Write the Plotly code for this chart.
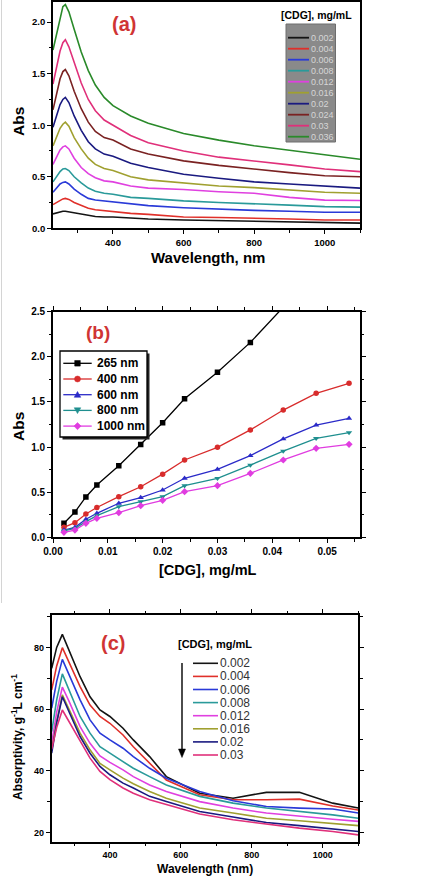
import plotly.graph_objects as go

W, H = 434, 894
FONT = "Liberation Sans, Arial, sans-serif"

# ---------------- Panel (a): Abs spectra ----------------
wl_a = [230, 240, 250, 258, 265, 275, 290, 310, 330, 350, 375, 400, 450, 500, 600, 700, 800, 900, 1000, 1100]
conc_a = ["0.002", "0.004", "0.006", "0.008", "0.012", "0.016", "0.02", "0.024", "0.03", "0.036"]
colors_a = ["#141414", "#e0302a", "#2a3ad8", "#2a9a9a", "#e040e0", "#a0a030", "#1a1a80", "#7a2222", "#e0307a", "#2a8a2a"]
a_0002 = [0.14, 0.15, 0.16, 0.165, 0.165, 0.16, 0.15, 0.135, 0.125, 0.115, 0.11, 0.11, 0.10, 0.09, 0.08, 0.075, 0.07, 0.065, 0.055, 0.05]
a_0004 = [0.23, 0.25, 0.275, 0.285, 0.29, 0.28, 0.25, 0.22, 0.195, 0.18, 0.17, 0.162, 0.145, 0.135, 0.11, 0.105, 0.10, 0.09, 0.08, 0.08]
a_0006 = [0.35, 0.39, 0.43, 0.445, 0.45, 0.43, 0.38, 0.33, 0.29, 0.275, 0.265, 0.258, 0.235, 0.22, 0.20, 0.185, 0.174, 0.165, 0.155, 0.155]
a_0008 = [0.45, 0.50, 0.55, 0.575, 0.58, 0.56, 0.50, 0.44, 0.39, 0.36, 0.34, 0.33, 0.30, 0.29, 0.266, 0.25, 0.24, 0.225, 0.21, 0.205]
a_0012 = [0.62, 0.69, 0.76, 0.79, 0.80, 0.77, 0.68, 0.59, 0.53, 0.49, 0.46, 0.45, 0.41, 0.39, 0.377, 0.355, 0.34, 0.30, 0.273, 0.27]
a_0016 = [0.80, 0.88, 0.97, 1.01, 1.03, 0.99, 0.88, 0.77, 0.68, 0.62, 0.58, 0.56, 0.50, 0.47, 0.44, 0.41, 0.395, 0.37, 0.35, 0.34]
a_0020 = [0.98, 1.08, 1.20, 1.25, 1.27, 1.22, 1.09, 0.95, 0.84, 0.77, 0.72, 0.70, 0.63, 0.59, 0.524, 0.485, 0.45, 0.43, 0.41, 0.39]
a_0024 = [1.15, 1.30, 1.45, 1.52, 1.54, 1.48, 1.33, 1.16, 1.03, 0.94, 0.88, 0.857, 0.77, 0.72, 0.654, 0.61, 0.572, 0.54, 0.51, 0.50]
a_0030 = [1.40, 1.55, 1.72, 1.80, 1.83, 1.76, 1.60, 1.41, 1.25, 1.14, 1.05, 1.00, 0.90, 0.83, 0.75, 0.69, 0.655, 0.615, 0.575, 0.55]
a_0036 = [1.73, 1.88, 2.05, 2.15, 2.17, 2.10, 1.93, 1.71, 1.53, 1.39, 1.27, 1.19, 1.09, 1.02, 0.92, 0.855, 0.80, 0.755, 0.71, 0.67]
series_a = [a_0002, a_0004, a_0006, a_0008, a_0012, a_0016, a_0020, a_0024, a_0030, a_0036]

# ---------------- Panel (b): Abs vs concentration ----------------
conc_b = [0.002, 0.004, 0.006, 0.008, 0.012, 0.016, 0.020, 0.024, 0.030, 0.036, 0.042, 0.048, 0.054]
b_265 = [0.155, 0.28, 0.447, 0.58, 0.794, 1.027, 1.27, 1.536, 1.828, 2.16, 2.55]
b_400 = [0.11, 0.162, 0.258, 0.33, 0.45, 0.56, 0.70, 0.857, 0.997, 1.19, 1.41, 1.595, 1.706]
b_600 = [0.08, 0.11, 0.20, 0.266, 0.377, 0.44, 0.524, 0.654, 0.753, 0.905, 1.09, 1.244, 1.318]
b_800 = [0.07, 0.10, 0.174, 0.24, 0.34, 0.395, 0.45, 0.572, 0.654, 0.80, 0.956, 1.097, 1.16]
b_1000 = [0.055, 0.08, 0.155, 0.21, 0.273, 0.35, 0.41, 0.506, 0.572, 0.709, 0.857, 0.986, 1.03]
names_b = ["265 nm", "400 nm", "600 nm", "800 nm", "1000 nm"]
colors_b = ["#000000", "#d82c2c", "#2b2bc8", "#1f8f8f", "#e03ce0"]
symbols_b = ["square", "circle", "triangle-up", "triangle-down", "diamond"]
series_b = [b_265, b_400, b_600, b_800, b_1000]

# ---------------- Panel (c): Absorptivity spectra ----------------
wl_c = [236, 250, 266, 285, 316, 344, 372, 400, 437, 466, 512, 559, 653, 747, 841, 934, 1028, 1100]
conc_c = ["0.002", "0.004", "0.006", "0.008", "0.012", "0.016", "0.02", "0.03"]
colors_c = ["#141414", "#e0302a", "#2a3ad8", "#2a9a9a", "#e040e0", "#a0a030", "#1a1a80", "#e0307a"]
c_0002 = [73.2, 80.0, 84.2, 79.0, 70.5, 64.0, 59.7, 57.6, 53.8, 50.0, 44.6, 38.1, 32.7, 31.1, 33.0, 33.0, 29.5, 27.9]
c_0004 = [66.2, 74.0, 79.9, 75.0, 67.3, 61.3, 57.6, 55.4, 51.6, 47.8, 42.4, 37.0, 32.2, 30.6, 30.6, 30.8, 28.6, 27.3]
c_0006 = [60.3, 69.0, 76.1, 71.0, 63.0, 56.5, 52.2, 50.0, 47.3, 44.6, 40.8, 37.6, 33.3, 30.3, 28.4, 27.9, 27.6, 26.3]
c_0008 = [52.7, 63.0, 71.4, 66.0, 57.6, 52.2, 47.8, 45.7, 43.0, 40.8, 38.1, 35.4, 31.7, 29.5, 27.9, 26.8, 25.7, 24.6]
c_0012 = [48.9, 59.0, 67.1, 62.5, 54.3, 48.9, 44.8, 42.7, 40.3, 38.1, 35.4, 33.3, 30.0, 27.9, 26.3, 25.2, 24.3, 23.6]
c_0016 = [46.5, 56.0, 64.6, 60.0, 52.2, 46.8, 42.4, 40.3, 37.6, 35.8, 33.3, 31.1, 27.9, 26.3, 24.6, 23.8, 22.8, 22.2]
c_0020 = [45.7, 55.5, 64.0, 59.0, 51.1, 45.7, 41.4, 38.7, 36.0, 34.4, 31.7, 30.0, 26.8, 25.0, 23.2, 22.2, 21.1, 20.3]
c_0030 = [47.0, 54.0, 59.7, 56.0, 49.5, 44.1, 39.8, 37.1, 34.4, 32.7, 30.6, 29.0, 26.0, 24.1, 22.7, 21.4, 20.3, 19.2]
series_c = [c_0002, c_0004, c_0006, c_0008, c_0012, c_0016, c_0020, c_0030]


def PX(px):
    return px / W


def PY(py):
    return 1 - py / H


fig = go.Figure()

for name, col, ys in zip(conc_a, colors_a, series_a):
    fig.add_trace(go.Scatter(x=wl_a, y=ys, mode="lines", name=name,
                             line=dict(color=col, width=1.6), xaxis="x", yaxis="y"))

for name, col, sym, ys in zip(names_b, colors_b, symbols_b, series_b):
    fig.add_trace(go.Scatter(x=conc_b[:len(ys)], y=ys, mode="lines+markers", name=name,
                             line=dict(color=col, width=1.3),
                             marker=dict(symbol=sym, size=5.5, color=col),
                             xaxis="x2", yaxis="y2"))

for name, col, ys in zip(conc_c, colors_c, series_c):
    fig.add_trace(go.Scatter(x=wl_c, y=ys, mode="lines", name=name,
                             line=dict(color=col, width=1.6), xaxis="x3", yaxis="y3"))


def axis(domain, rng, dtick, fmt, minor, fsize, anchor, mirror=True):
    return dict(domain=domain, range=rng, dtick=dtick, tick0=0, tickformat=fmt,
                showline=True, linecolor="black", linewidth=1.6, mirror=mirror,
                ticks="outside", ticklen=4, tickwidth=1.3, tickcolor="black",
                minor=dict(dtick=minor, ticks="outside", ticklen=2.5, tickwidth=1.1, tickcolor="black"),
                showgrid=False, zeroline=False, anchor=anchor, automargin=False,
                tickfont=dict(family=FONT, size=fsize, color="black", weight="bold"))


xa_dom = [PX(53), PX(360)]
xc_dom = [PX(51.7), PX(358.3)]
fig.update_layout(
    template="none",
    width=W, height=H, margin=dict(l=0, r=0, t=0, b=0, pad=0, autoexpand=False),
    paper_bgcolor="white", plot_bgcolor="white", showlegend=False,
    font=dict(family=FONT, color="black"),
    xaxis=axis(xa_dom, [230, 1100], 200, "d", 100, 9.5, "y"),
    yaxis=axis([PY(228.3), PY(1.5)], [0, 2.2], 0.5, ".1f", 0.25, 9.5, "x"),
    xaxis2=axis(xa_dom, [0, 0.056], 0.01, ".2f", 0.005, 10, "y2", "ticks"),
    yaxis2=axis([PY(537.3), PY(311.7)], [0, 2.5], 0.5, ".1f", 0.25, 10, "x2", "ticks"),
    xaxis3=axis(xc_dom, [236, 1100], 200, "d", 100, 9, "y3", "ticks"),
    yaxis3=axis([PY(841.7), PY(615)], [17, 90.5], 20, "d", 10, 9, "x3", "ticks"),
)

ann = []
shapes = []


def text(px, py, s, size, bold=True, color="black", angle=0, xanchor="center"):
    ann.append(dict(x=PX(px), y=PY(py), xref="paper", yref="paper", text=s, showarrow=False,
                    textangle=angle, xanchor=xanchor, yanchor="middle", borderpad=0,
                    font=dict(family=FONT, size=size, color=color, weight="bold" if bold else "normal")))


def line(x0, y0, x1, y1, color, width):
    shapes.append(dict(type="line", xref="paper", yref="paper", x0=PX(x0), x1=PX(x1), y0=PY(y0), y1=PY(y1),
                       line=dict(color=color, width=width), layer="above"))


def poly(points, color):
    d = "M " + " L ".join(f"{PX(x):.5f},{PY(y):.5f}" for x, y in points) + " Z"
    shapes.append(dict(type="path", xref="paper", yref="paper", path=d, fillcolor=color,
                       line=dict(color=color, width=0.5), layer="above"))


# panel labels
text(123.5, 24, "(a)", 20, color="#d03434")
text(98.3, 332.3, "(b)", 19, color="#d03434")
text(113, 643.3, "(c)", 20, color="#d03434")

# axis titles
text(18, 122, "Abs", 15.5, angle=-90)
text(207.5, 257, "Wavelength, nm", 15)
text(18, 427, "Abs", 15.5, angle=-90)
text(207.5, 570, "[CDG], mg/mL", 14.5)
text(17, 737, "Absorptivity, g<sup>-1</sup>L cm<sup>-1</sup>", 12, angle=-90)
text(204.5, 869, "Wavelength (nm)", 12)

# panel (a) legend (gray box)
shapes.append(dict(type="rect", xref="paper", yref="paper", x0=PX(286), x1=PX(335.5), y0=PY(142), y1=PY(24),
                   fillcolor="#8a8a8a", line=dict(color="#6e6e6e", width=1), layer="above"))
text(316.5, 15, "[CDG], mg/mL", 10.5)
for i, (name, col) in enumerate(zip(conc_a, colors_a)):
    py = 37.7 + i * 11
    line(288, py, 309, py, col, 1.8)
    text(309.5, py, name, 9, bold=False, color="#d6d6d6", xanchor="left")

# panel (b) legend (boxed, with shadow)
shapes.append(dict(type="rect", xref="paper", yref="paper", x0=PX(62.5), x1=PX(149.5), y0=PY(439.5), y1=PY(353.5),
                   fillcolor="#222222", line=dict(width=0), layer="above"))
shapes.append(dict(type="rect", xref="paper", yref="paper", x0=PX(60), x1=PX(147), y0=PY(437), y1=PY(351),
                   fillcolor="white", line=dict(color="black", width=1.3), layer="above"))
for i, (name, col, sym) in enumerate(zip(names_b, colors_b, symbols_b)):
    py = 363.3 + i * 15.7
    cx = 77.5
    line(63.3, py, 91.7, py, col, 1.3)
    if sym == "square":
        poly([(cx - 2.8, py - 2.8), (cx + 2.8, py - 2.8), (cx + 2.8, py + 2.8), (cx - 2.8, py + 2.8)], col)
    elif sym == "circle":
        shapes.append(dict(type="circle", xref="paper", yref="paper", x0=PX(cx - 3), x1=PX(cx + 3),
                           y0=PY(py + 3), y1=PY(py - 3), fillcolor=col, line=dict(color=col, width=0.5),
                           layer="above"))
    elif sym == "triangle-up":
        poly([(cx - 3.3, py + 2.6), (cx + 3.3, py + 2.6), (cx, py - 3.2)], col)
    elif sym == "triangle-down":
        poly([(cx - 3.3, py - 2.6), (cx + 3.3, py - 2.6), (cx, py + 3.2)], col)
    else:
        poly([(cx, py - 3.6), (cx + 3.6, py), (cx, py + 3.6), (cx - 3.6, py)], col)
    text(95.7, py, name, 12, xanchor="left")

# panel (c) legend
text(215, 644, "[CDG], mg/mL", 11)
for i, (name, col) in enumerate(zip(conc_c, colors_c)):
    py = 663.3 + i * 13.1
    line(193, py, 218, py, col, 1.6)
    text(219, py, name, 12, bold=False, color="#333333", xanchor="left")
line(182, 663, 182, 750, "black", 1.4)
poly([(178.5, 749), (185.5, 749), (182, 757.5)], "black")

# faint page edge line
shapes.append(dict(type="line", xref="paper", yref="paper", x0=PX(1.5), x1=PX(1.5), y0=PY(603), y1=PY(0),
                   line=dict(color="#d4d4d4", width=1)))

fig.update_layout(annotations=ann, shapes=shapes)
fig.write_html("out.html", config={"displayModeBar": False},
               post_script="document.body.style.margin='0';document.body.style.overflow='hidden';")
